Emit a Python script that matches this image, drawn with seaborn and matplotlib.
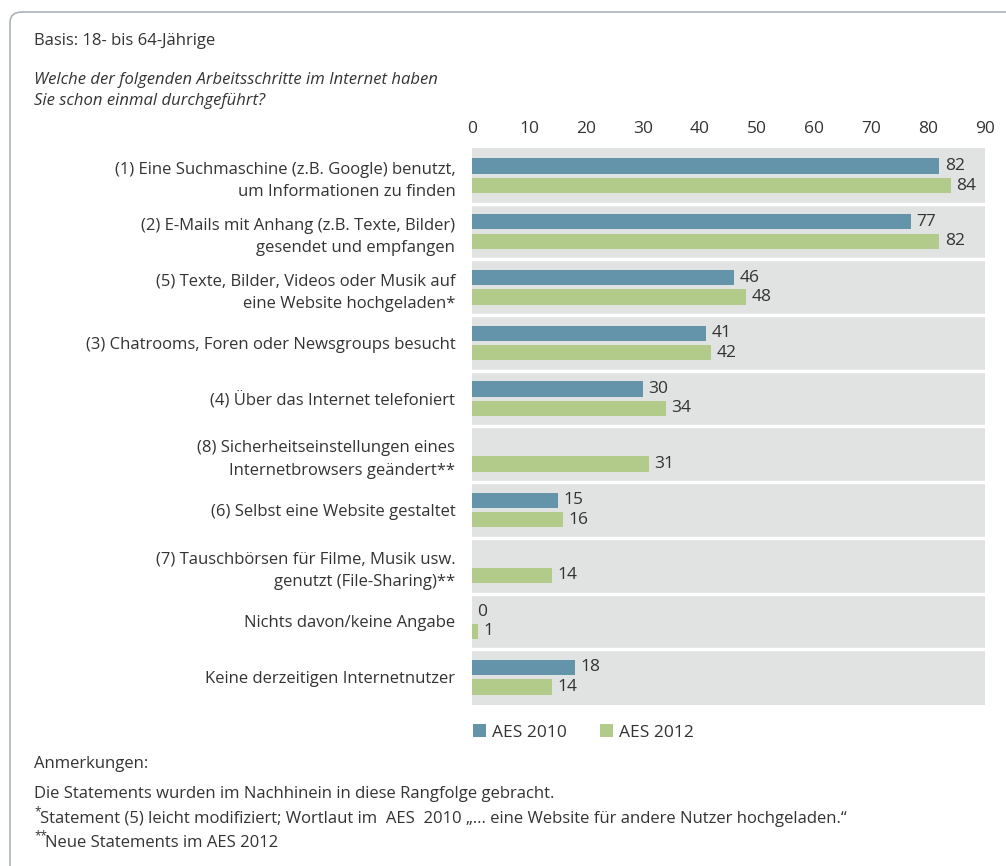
import matplotlib.pyplot as plt
import pandas as pd
import seaborn as sns
from matplotlib.patches import FancyBboxPatch

# data (top to bottom)
kategorien = ['(1) Eine Suchmaschine (z.B. Google) benutzt,\num Informationen zu finden',
              '(2) E-Mails mit Anhang (z.B. Texte, Bilder)\ngesendet und empfangen',
              '(5) Texte, Bilder, Videos oder Musik auf\neine Website hochgeladen*',
              '(3) Chatrooms, Foren oder Newsgroups besucht',
              '(4) Über das Internet telefoniert',
              '(8) Sicherheitseinstellungen eines\nInternetbrowsers geändert**',
              '(6) Selbst eine Website gestaltet',
              '(7) Tauschbörsen für Filme, Musik usw.\ngenutzt (File-Sharing)**',
              'Nichts davon/keine Angabe',
              'Keine derzeitigen Internetnutzer']
aes_2010 = [82, 77, 46, 41, 30, None, 15, None, 0, 18]
aes_2012 = [84, 82, 48, 42, 34, 31, 16, 14, 1, 14]
serien = ['AES 2010', 'AES 2012']
farben = ['#6394aa', '#b2cb8a']
x_ticks = [0, 10, 20, 30, 40, 50, 60, 70, 80, 90]

df = pd.DataFrame({'kategorie': kategorien * 2,
                   'serie': ['AES 2010'] * 10 + ['AES 2012'] * 10,
                   'wert': aes_2010 + aes_2012}).dropna()

sns.set_style('white')
plt.rcParams['font.family'] = ['Open Sans', 'DejaVu Sans']
txt = '#333333'

fig = plt.figure(figsize=(10.06, 8.66), dpi=100)
W, H = 1006, 866

# outer rounded frame
frame = FancyBboxPatch((10 / W, -0.1), 1.2, 1.1 - 12 / H,
                       boxstyle='round,pad=0,rounding_size=0.012',
                       transform=fig.transFigure, facecolor='none',
                       edgecolor='#a9b4ba', linewidth=1.2)
fig.patches.append(frame)

ax = fig.add_axes([472 / W, 1 - 705 / H, (985 - 472) / W, (705 - 148) / H])
ax.set_facecolor('#e0e3e2')
sns.barplot(data=df, y='kategorie', x='wert', hue='serie', order=kategorien,
            hue_order=serien, palette=farben, orient='h', width=0.7, gap=0.22,
            saturation=1, linewidth=0, ax=ax, legend=True)
for c in ax.containers:
    ax.bar_label(c, fmt='%d', padding=4, fontsize=12.5, color=txt)

for i in range(len(kategorien) - 1):
    ax.axhline(i + 0.5, color='white', lw=2.5)

ax.set_xlim(0, 90)
ax.set_ylim(len(kategorien) - 0.5, -0.5)
ax.xaxis.tick_top()
ax.set_xticks(x_ticks)
ax.tick_params(axis='x', length=0, pad=8, labelsize=12.5, labelcolor=txt)
ax.tick_params(axis='y', length=0, pad=12, labelsize=12, labelcolor=txt)
for lab in ax.get_yticklabels():
    lab.set_linespacing(1.55)
    lab.set_horizontalalignment('right')
ax.set_xlabel('')
ax.set_ylabel('')
for s in ax.spines.values():
    s.set_visible(False)

ax.legend(loc='upper left', bbox_to_anchor=(-0.012, -0.022), ncol=2,
          frameon=False, handlelength=0.75, handleheight=0.75,
          handletextpad=0.35, columnspacing=1.9, fontsize=12.5,
          labelcolor=txt, borderaxespad=0)

# texts
fig.text(34 / W, 1 - 41 / H, 'Basis: 18- bis 64-Jährige', fontsize=12, color=txt, va='center')
fig.text(34 / W, 1 - 80 / H, 'Welche der folgenden Arbeitsschritte im Internet haben',
         fontsize=12, color=txt, va='center', style='italic')
fig.text(34 / W, 1 - 101 / H, 'Sie schon einmal durchgeführt?',
         fontsize=12, color=txt, va='center', style='italic')
fig.text(34 / W, 1 - 764 / H, 'Anmerkungen:', fontsize=12, color=txt, va='center')
fig.text(34 / W, 1 - 794 / H, 'Die Statements wurden im Nachhinein in diese Rangfolge gebracht.',
         fontsize=12, color=txt, va='center')
fig.text(34 / W, 1 - 812 / H, '*', fontsize=8.5, color=txt, va='center')
fig.text(40 / W, 1 - 819 / H,
         'Statement (5) leicht modifiziert; Wortlaut im  AES  2010 „... eine Website für andere Nutzer hochgeladen.“',
         fontsize=12, color=txt, va='center')
fig.text(34 / W, 1 - 835.5 / H, '**', fontsize=8.5, color=txt, va='center')
fig.text(45 / W, 1 - 843 / H, 'Neue Statements im AES 2012', fontsize=12, color=txt, va='center')

fig.savefig('out.png', dpi=100)
